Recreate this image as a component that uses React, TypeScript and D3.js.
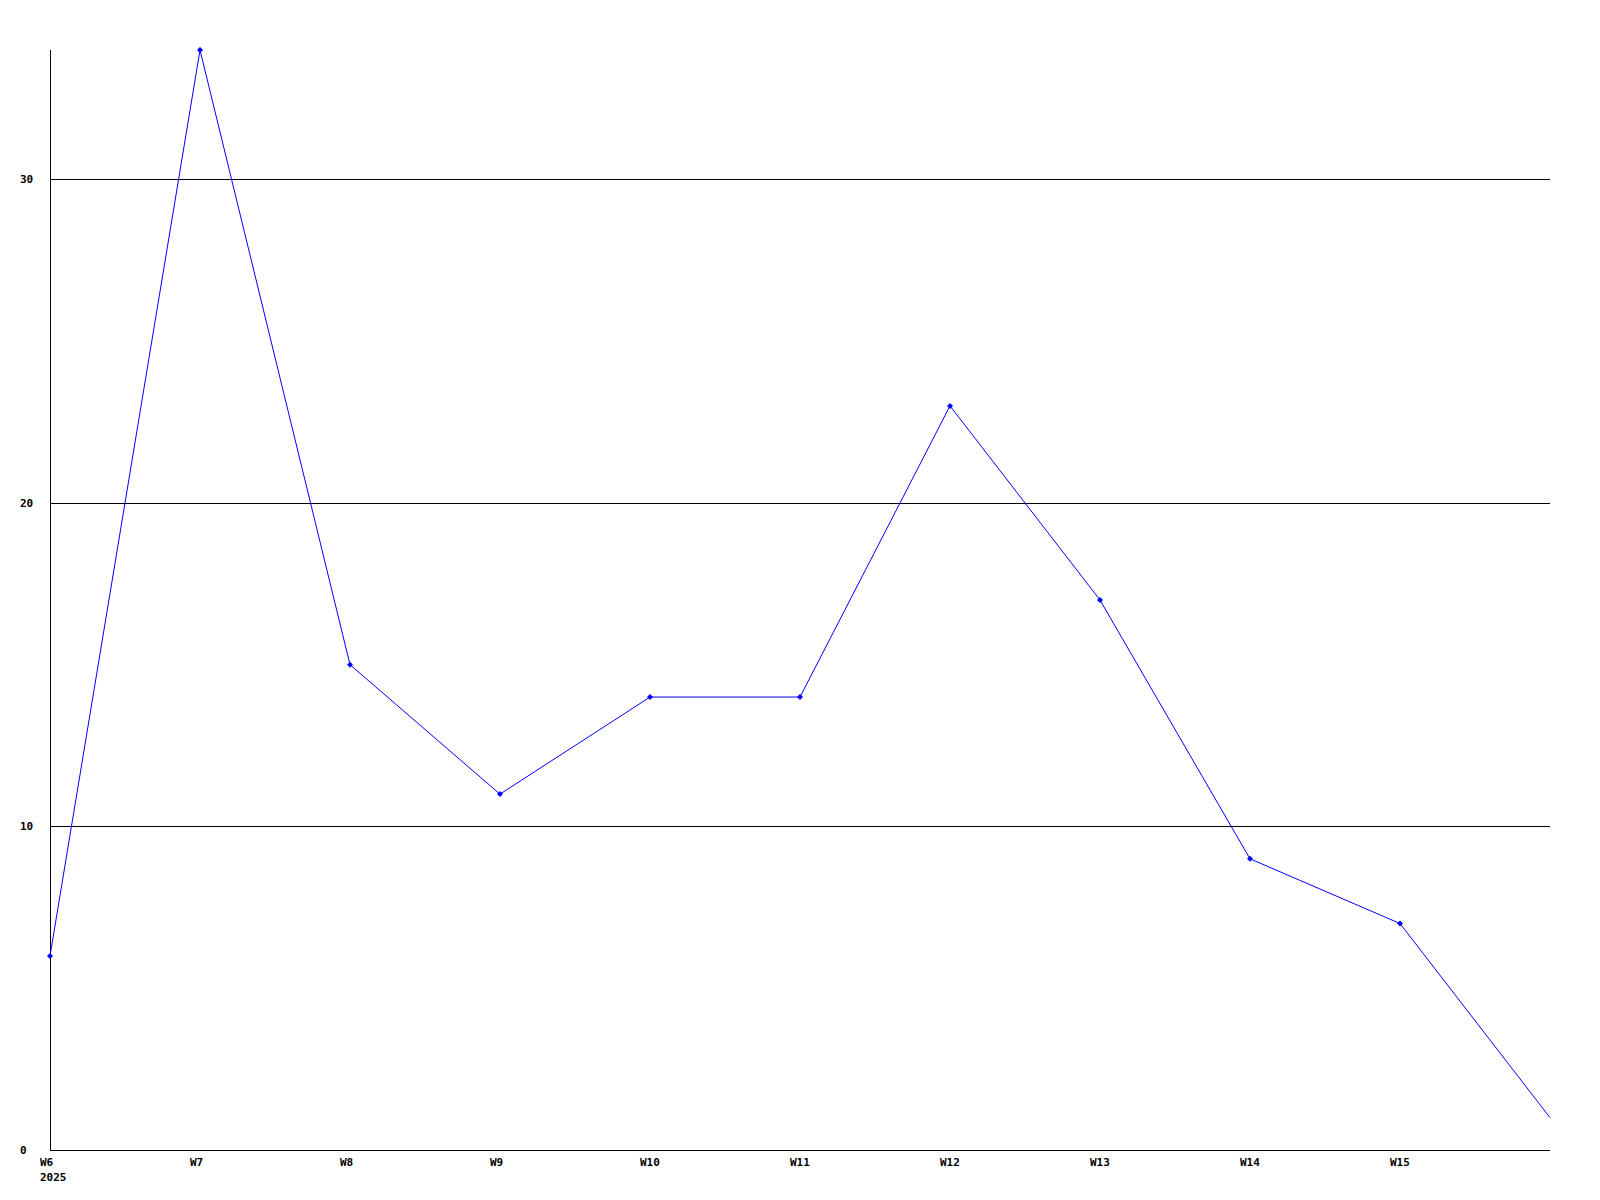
import React from "react";
import * as d3 from "d3";

const weeks = ["W6", "W7", "W8", "W9", "W10", "W11", "W12", "W13", "W14", "W15", "W16"];
const values = [6, 34, 15, 11, 14, 14, 23, 17, 9, 7, 1];
const xTickLabels = ["W6", "W7", "W8", "W9", "W10", "W11", "W12", "W13", "W14", "W15"];
const yTicks = [0, 10, 20, 30];
const yearLabel = "2025";

export default function App() {
  const W = 1600, H = 1200;
  const left = 50, right = 1550, top = 50, bottom = 1150;
  const x = d3.scalePoint<string>().domain(weeks).range([left, right]);
  const y = d3.scaleLinear().domain([0, 34]).range([bottom, top]);
  const line = d3.line<number>().x((_, i) => x(weeks[i])!).y((d) => y(d));
  const font = "'DejaVu Sans Mono', monospace";
  return (
    <svg width={W} height={H} style={{ position: "absolute", left: 0, top: 0, background: "#fff" }}>
      <rect x={0} y={0} width={W} height={H} fill="#fff" />
      {yTicks.filter((t) => t > 0).map((t) => (
        <line key={t} x1={left} x2={right} y1={Math.round(y(t)) + 0.5} y2={Math.round(y(t)) + 0.5} stroke="#000" strokeWidth={1} shapeRendering="crispEdges" />
      ))}
      <line x1={left + 0.5} x2={left + 0.5} y1={top} y2={bottom} stroke="#000" shapeRendering="crispEdges" />
      <line x1={left} x2={right} y1={bottom + 0.5} y2={bottom + 0.5} stroke="#000" shapeRendering="crispEdges" />
      {yTicks.map((t) => (
        <text key={t} x={20} y={y(t)} dy="0.35em" fontFamily={font} fontWeight="bold" fontSize={11} fill="#000">{t}</text>
      ))}
      {xTickLabels.map((w) => (
        <text key={w} x={x(w)! - 10} y={1166} fontFamily={font} fontWeight="bold" fontSize={11} fill="#000">{w}</text>
      ))}
      <text x={x("W6")! - 10} y={1181} fontFamily={font} fontWeight="bold" fontSize={11} fill="#000">{yearLabel}</text>
      <path d={line(values) || ""} fill="none" stroke="#0000ff" strokeWidth={1} />
      {values.slice(0, values.length - 1).map((v, i) => {
        const cx = x(weeks[i])!, cy = y(v);
        return <path key={i} d={`M${cx - 3},${cy}L${cx},${cy - 3}L${cx + 3},${cy}L${cx},${cy + 3}Z`} fill="#0000ff" />;
      })}
    </svg>
  );
}
